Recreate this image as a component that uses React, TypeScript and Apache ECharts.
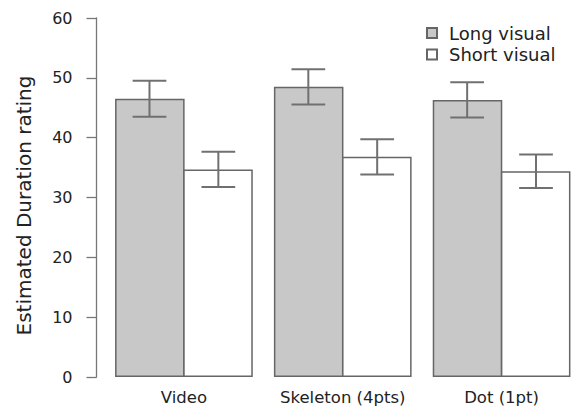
import React, { useEffect, useRef } from "react";
import * as echarts from "echarts";

const categories = ["Video", "Skeleton (4pts)", "Dot (1pt)"];
const seriesNames = ["Long visual", "Short visual"];
const longVisual = [46.5, 48.5, 46.3];
const shortVisual = [34.7, 36.8, 34.4];
const longErr = [3.0, 2.95, 2.95];
const shortErr = [2.95, 2.95, 2.8];
const yMin = 0;
const yMax = 60;
const yInterval = 10;

const FONT = "DejaVu Sans";
const CAT_GAP = 0.133;

function errorSeries(name: string, values: number[], errs: number[], side: number) {
  return {
    type: "custom",
    name,
    z: 5,
    silent: true,
    encode: { x: 0, y: 1 },
    data: values.map((v, i) => [i, v, errs[i]]),
    renderItem: (params: any, api: any) => {
      const idx = api.value(0);
      const v = api.value(1);
      const e = api.value(2);
      const band = api.size([1, 0])[0];
      const barW = (band * (1 - CAT_GAP)) / 2;
      const hi = api.coord([idx, v + e]);
      const lo = api.coord([idx, v - e]);
      const x = hi[0] + side * barW / 2;
      const cap = barW * 0.245;
      const style = { stroke: "#707070", lineWidth: 2, fill: "none" };
      return {
        type: "group",
        children: [
          { type: "line", shape: { x1: x, y1: hi[1], x2: x, y2: lo[1] }, style },
          { type: "line", shape: { x1: x - cap, y1: hi[1], x2: x + cap, y2: hi[1] }, style },
          { type: "line", shape: { x1: x - cap, y1: lo[1], x2: x + cap, y2: lo[1] }, style },
        ],
      };
    },
  };
}

export default function App() {
  const ref = useRef<HTMLDivElement>(null);
  useEffect(() => {
    document.body.style.margin = "0";
    const chart = echarts.init(ref.current!, null, { renderer: "svg" });
    chart.setOption({
      animation: false,
      backgroundColor: "#ffffff",
      textStyle: { fontFamily: FONT },
      grid: { left: 104.5, top: 18, width: 484.5, height: 360 },
      legend: {
        orient: "vertical",
        left: 421,
        top: 19,
        data: seriesNames,
        icon: "rect",
        itemWidth: 10,
        itemHeight: 10,
        itemGap: 3.5,
        textStyle: { fontFamily: FONT, fontSize: 18, color: "#222", lineHeight: 18, padding: [0, 0, 0, 7] },
        selectedMode: false,
      },
      xAxis: {
        type: "category",
        data: categories,
        axisLine: { show: false },
        axisTick: { show: false },
        axisLabel: { fontFamily: FONT, fontSize: 16.5, color: "#222", margin: 12, interval: 0 },
      },
      yAxis: {
        type: "value",
        min: yMin,
        max: yMax,
        interval: yInterval,
        offset: 8,
        name: "Estimated Duration rating",
        nameLocation: "middle",
        nameGap: 63,
        nameTextStyle: { fontFamily: FONT, fontSize: 20, color: "#222", padding: [0, 16, 0, 0] },
        axisLine: { show: true, lineStyle: { color: "#777", width: 1.3 } },
        axisTick: { show: true, length: 10, lineStyle: { color: "#777", width: 1.3 } },
        axisLabel: { fontFamily: FONT, fontSize: 16, color: "#222", margin: 24 },
        splitLine: { show: false },
      },
      series: [
        {
          type: "bar",
          name: seriesNames[0],
          data: longVisual,
          barGap: "-2%",
          barCategoryGap: CAT_GAP * 100 + "%",
          itemStyle: { color: "#c8c8c8", borderColor: "#666", borderWidth: 1.5 },
        },
        {
          type: "bar",
          name: seriesNames[1],
          data: shortVisual,
          barGap: "-2%",
          barCategoryGap: CAT_GAP * 100 + "%",
          itemStyle: { color: "#ffffff", borderColor: "#666", borderWidth: 1.5 },
        },
        errorSeries("Long err", longVisual, longErr, -1),
        errorSeries("Short err", shortVisual, shortErr, 1),
      ],
    });
    return () => chart.dispose();
  }, []);
  return <div ref={ref} style={{ width: 581, height: 406 }} />;
}
